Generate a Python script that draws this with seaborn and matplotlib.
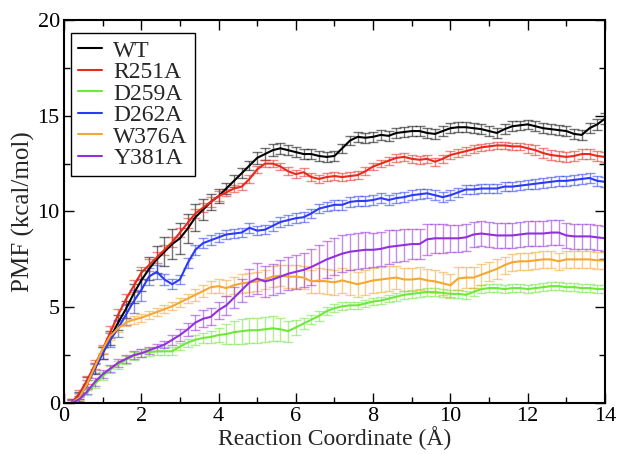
import numpy as np
import pandas as pd
import matplotlib.pyplot as plt
from matplotlib.ticker import MultipleLocator
import seaborn as sns

# reaction coordinate grid (Angstrom), 0.2 spacing
coord = np.round(np.arange(0.2, 14.01, 0.2), 1)

wt = [0.0, 0.4, 1.1, 1.8, 2.6, 3.4, 4.2, 4.9, 5.7, 6.4,
      7.0, 7.5, 7.9, 8.3, 8.6, 9.1, 9.7, 10.1, 10.5, 10.8,
      11.2, 11.6, 12.0, 12.4, 12.8, 13.0, 13.2, 13.3, 13.2, 13.1,
      13.0, 13.0, 12.9, 12.85, 12.9, 13.3, 13.7, 13.9, 13.85, 13.9,
      14.0, 13.95, 14.1, 14.15, 14.2, 14.2, 14.1, 14.05, 14.2, 14.35,
      14.4, 14.4, 14.35, 14.3, 14.2, 14.1, 14.3, 14.45, 14.5, 14.55,
      14.45, 14.35, 14.3, 14.25, 14.2, 14.05, 14.0, 14.35, 14.55, 14.85]
wt_err = [0.2, 0.2, 0.25, 0.3, 0.3, 0.35, 0.4, 0.45, 0.5, 0.55,
          0.6, 0.7, 0.75, 0.8, 0.8, 0.75, 0.7, 0.55, 0.4, 0.35,
          0.3, 0.3, 0.25, 0.25, 0.3, 0.3, 0.3, 0.3, 0.25, 0.25,
          0.25, 0.25, 0.25, 0.25, 0.25, 0.25, 0.25, 0.25, 0.25, 0.25,
          0.25, 0.25, 0.25, 0.25, 0.25, 0.25, 0.25, 0.25, 0.25, 0.25,
          0.25, 0.25, 0.25, 0.25, 0.25, 0.25, 0.25, 0.25, 0.25, 0.25,
          0.25, 0.25, 0.25, 0.25, 0.25, 0.25, 0.25, 0.25, 0.3, 0.3]

r251a = [0.0, 0.5, 1.2, 2.0, 2.8, 3.7, 4.6, 5.4, 6.1, 6.8,
         7.2, 7.6, 8.0, 8.4, 8.9, 9.4, 9.9, 10.2, 10.5, 10.8,
         11.0, 11.2, 11.3, 11.7, 12.2, 12.5, 12.5, 12.35, 12.1, 11.95,
         12.05, 11.8, 11.7, 11.8, 11.85, 11.8, 11.85, 11.9, 12.1, 12.35,
         12.5, 12.65, 12.8, 12.85, 12.75, 12.7, 12.75, 12.6, 12.75, 12.95,
         13.05, 13.15, 13.25, 13.35, 13.4, 13.45, 13.45, 13.4, 13.4, 13.3,
         13.2, 13.05, 12.95, 12.9, 12.85, 12.9, 13.0, 13.0, 12.9, 12.85]
r251a_err = [0.2, 0.2, 0.2, 0.25, 0.25, 0.3, 0.3, 0.3, 0.3, 0.3,
             0.3, 0.3, 0.25, 0.25, 0.25, 0.25, 0.25, 0.25, 0.25, 0.25,
             0.2, 0.2, 0.2, 0.2, 0.2, 0.2, 0.2, 0.2, 0.2, 0.2,
             0.2, 0.2, 0.2, 0.2, 0.2, 0.2, 0.2, 0.2, 0.2, 0.2,
             0.2, 0.2, 0.2, 0.2, 0.2, 0.2, 0.2, 0.2, 0.2, 0.2,
             0.2, 0.2, 0.2, 0.2, 0.2, 0.2, 0.2, 0.2, 0.2, 0.25,
             0.25, 0.25, 0.25, 0.25, 0.25, 0.25, 0.25, 0.25, 0.25, 0.25]

d259a = [0.0, 0.2, 0.55, 1.0, 1.4, 1.75, 2.0, 2.25, 2.45, 2.6,
         2.65, 2.7, 2.7, 2.7, 2.95, 3.15, 3.3, 3.4, 3.45, 3.55,
         3.6, 3.7, 3.75, 3.8, 3.8, 3.85, 3.9, 3.85, 3.75, 3.95,
         4.15, 4.35, 4.55, 4.8, 4.95, 5.05, 5.1, 5.1, 5.2, 5.3,
         5.35, 5.45, 5.55, 5.65, 5.7, 5.75, 5.8, 5.8, 5.75, 5.7,
         5.7, 5.65, 5.8, 5.95, 6.0, 6.0, 5.95, 6.0, 6.0, 5.95,
         6.0, 6.05, 6.1, 6.1, 6.05, 6.05, 6.0, 6.0, 5.95, 5.95]
d259a_err = [0.15, 0.15, 0.15, 0.2, 0.2, 0.2, 0.2, 0.2, 0.2, 0.2,
             0.2, 0.2, 0.2, 0.2, 0.2, 0.2, 0.25, 0.25, 0.3, 0.35,
             0.5, 0.6, 0.65, 0.65, 0.65, 0.65, 0.65, 0.6, 0.55, 0.4,
             0.3, 0.25, 0.25, 0.2, 0.2, 0.2, 0.2, 0.2, 0.2, 0.2,
             0.2, 0.2, 0.2, 0.2, 0.2, 0.2, 0.2, 0.2, 0.2, 0.2,
             0.2, 0.2, 0.2, 0.2, 0.2, 0.2, 0.2, 0.2, 0.2, 0.2,
             0.2, 0.2, 0.2, 0.2, 0.2, 0.2, 0.2, 0.2, 0.2, 0.2]

d262a = [0.0, 0.3, 1.0, 1.8, 2.6, 3.3, 3.9, 4.6, 5.3, 5.9,
         6.6, 6.85, 6.45, 6.2, 6.45, 7.3, 8.0, 8.35, 8.5, 8.65,
         8.8, 8.85, 8.9, 9.15, 9.0, 9.05, 9.25, 9.45, 9.55, 9.65,
         9.7, 9.9, 10.15, 10.25, 10.35, 10.35, 10.5, 10.55, 10.55, 10.6,
         10.7, 10.6, 10.7, 10.75, 10.85, 10.9, 10.95, 10.85, 10.75, 10.85,
         11.0, 11.15, 11.15, 11.2, 11.2, 11.2, 11.3, 11.3, 11.35, 11.4,
         11.45, 11.5, 11.55, 11.6, 11.6, 11.65, 11.7, 11.75, 11.6, 11.55]
d262a_err = [0.15, 0.2, 0.2, 0.25, 0.3, 0.35, 0.45, 0.55, 0.6, 0.55,
             0.45, 0.35, 0.3, 0.25, 0.25, 0.25, 0.25, 0.25, 0.25, 0.25,
             0.25, 0.25, 0.25, 0.25, 0.25, 0.25, 0.25, 0.25, 0.25, 0.25,
             0.25, 0.25, 0.25, 0.25, 0.25, 0.25, 0.25, 0.25, 0.25, 0.25,
             0.25, 0.25, 0.25, 0.25, 0.25, 0.25, 0.25, 0.25, 0.25, 0.25,
             0.25, 0.25, 0.25, 0.25, 0.25, 0.25, 0.25, 0.25, 0.25, 0.25,
             0.25, 0.25, 0.25, 0.25, 0.25, 0.25, 0.25, 0.25, 0.25, 0.25]

w376a = [0.0, 0.3, 1.0, 1.9, 2.8, 3.5, 3.9, 4.2, 4.35, 4.45,
         4.6, 4.75, 4.9, 5.05, 5.25, 5.45, 5.65, 5.85, 6.05, 6.1,
         6.0, 6.15, 6.25, 6.3, 6.35, 6.45, 6.6, 6.65, 6.6, 6.6,
         6.55, 6.35, 6.4, 6.35, 6.3, 6.4, 6.3, 6.2, 6.3, 6.4,
         6.45, 6.5, 6.55, 6.45, 6.45, 6.5, 6.4, 6.35, 6.25, 6.15,
         6.5, 6.55, 6.55, 6.7, 6.85, 7.0, 7.2, 7.35, 7.4, 7.4,
         7.45, 7.5, 7.5, 7.4, 7.5, 7.5, 7.5, 7.5, 7.45, 7.45]
w376a_err = [0.15, 0.15, 0.2, 0.2, 0.2, 0.2, 0.2, 0.2, 0.2, 0.2,
             0.2, 0.2, 0.2, 0.2, 0.25, 0.25, 0.3, 0.3, 0.3, 0.35,
             0.4, 0.45, 0.5, 0.5, 0.5, 0.5, 0.55, 0.55, 0.6, 0.6,
             0.6, 0.6, 0.65, 0.65, 0.65, 0.65, 0.65, 0.65, 0.65, 0.65,
             0.65, 0.65, 0.6, 0.6, 0.6, 0.6, 0.6, 0.6, 0.6, 0.6,
             0.6, 0.55, 0.55, 0.55, 0.5, 0.5, 0.45, 0.45, 0.45, 0.45,
             0.45, 0.45, 0.45, 0.45, 0.45, 0.45, 0.45, 0.45, 0.45, 0.45]

y381a = [0.0, 0.2, 0.6, 1.1, 1.5, 1.8, 2.1, 2.3, 2.5, 2.6,
         2.75, 2.9, 3.05, 3.3, 3.55, 3.85, 4.2, 4.4, 4.5, 4.85,
         5.1, 5.5, 5.9, 6.3, 6.5, 6.35, 6.45, 6.6, 6.75, 6.85,
         6.95, 7.1, 7.3, 7.5, 7.65, 7.8, 7.9, 7.95, 8.0, 8.0,
         8.05, 8.15, 8.2, 8.25, 8.3, 8.3, 8.55, 8.6, 8.6, 8.6,
         8.6, 8.65, 8.8, 8.85, 8.8, 8.75, 8.75, 8.75, 8.8, 8.85,
         8.85, 8.85, 8.9, 8.9, 8.75, 8.7, 8.7, 8.7, 8.65, 8.6]
y381a_err = [0.15, 0.15, 0.15, 0.2, 0.2, 0.2, 0.2, 0.2, 0.2, 0.2,
             0.2, 0.2, 0.2, 0.25, 0.3, 0.35, 0.4, 0.45, 0.45, 0.45,
             0.5, 0.55, 0.6, 0.7, 0.8, 0.8, 0.8, 0.85, 0.85, 0.9,
             0.9, 0.95, 0.95, 0.95, 0.95, 0.95, 0.95, 0.95, 0.95, 0.9,
             0.9, 0.9, 0.85, 0.85, 0.8, 0.8, 0.8, 0.75, 0.75, 0.7,
             0.7, 0.7, 0.65, 0.65, 0.65, 0.65, 0.65, 0.65, 0.65, 0.65,
             0.65, 0.65, 0.65, 0.65, 0.65, 0.65, 0.65, 0.65, 0.65, 0.65]

names = ["WT", "R251A", "D259A", "D262A", "W376A", "Y381A"]
colors = ["#000000", "#e8291c", "#6fe83a", "#2b3bf5", "#f4a731", "#9330dd"]
pmf = [wt, r251a, d259a, d262a, w376a, y381a]
errs = [wt_err, r251a_err, d259a_err, d262a_err, w376a_err, y381a_err]

frames = []
for name, vals, err in zip(names, pmf, errs):
    frames.append(pd.DataFrame({"coord": coord, "pmf": vals, "err": err, "mutant": name}))
df = pd.concat(frames, ignore_index=True)

sns.set_style("ticks")
plt.rcParams["font.family"] = ["Liberation Serif", "DejaVu Serif"]

fig = plt.figure(figsize=(6.2, 4.54), dpi=100)
ax = fig.add_axes([0.1032, 0.1123, 0.8726, 0.8437])

pal = dict(zip(names, colors))
# error bars first, lighter, then the mean lines on top
for name in names:
    sub = df[df["mutant"] == name]
    ax.errorbar(sub["coord"], sub["pmf"], yerr=sub["err"], fmt="none",
                ecolor=pal[name], alpha=0.55, elinewidth=1.0, capsize=3.5, capthick=1.0)
sns.lineplot(data=df, x="coord", y="pmf", hue="mutant", hue_order=names,
             palette=pal, linewidth=1.5, ax=ax, legend=False)

ax.set_xlim(0, 14)
ax.set_ylim(0, 20)
ax.xaxis.set_major_locator(MultipleLocator(2))
ax.xaxis.set_minor_locator(MultipleLocator(1))
ax.yaxis.set_major_locator(MultipleLocator(5))
ax.yaxis.set_minor_locator(MultipleLocator(2.5))
ax.tick_params(which="both", direction="in", top=True, right=True, width=1.0,
               labelsize=16, colors="black")
ax.tick_params(which="major", length=7, pad=3)
ax.tick_params(which="minor", length=4)
for sp in ax.spines.values():
    sp.set_linewidth(1.5)
    sp.set_color("black")

ax.set_xlabel("Reaction Coordinate (Å)", fontsize=17, labelpad=0)
ax.set_ylabel("PMF (kcal/mol)", fontsize=18, labelpad=2)

handles = [plt.Line2D([], [], color=c, linewidth=1.5) for c in colors]
leg = ax.legend(handles, names, loc="upper left", fontsize=17, frameon=True,
                fancybox=False, edgecolor="black", framealpha=1,
                handlelength=1.0, handletextpad=0.5, labelspacing=0.0,
                borderpad=0.3, borderaxespad=0, bbox_to_anchor=(0.0129, 0.966))
leg.get_frame().set_linewidth(1.0)

fig.savefig("out.png", dpi=100)
